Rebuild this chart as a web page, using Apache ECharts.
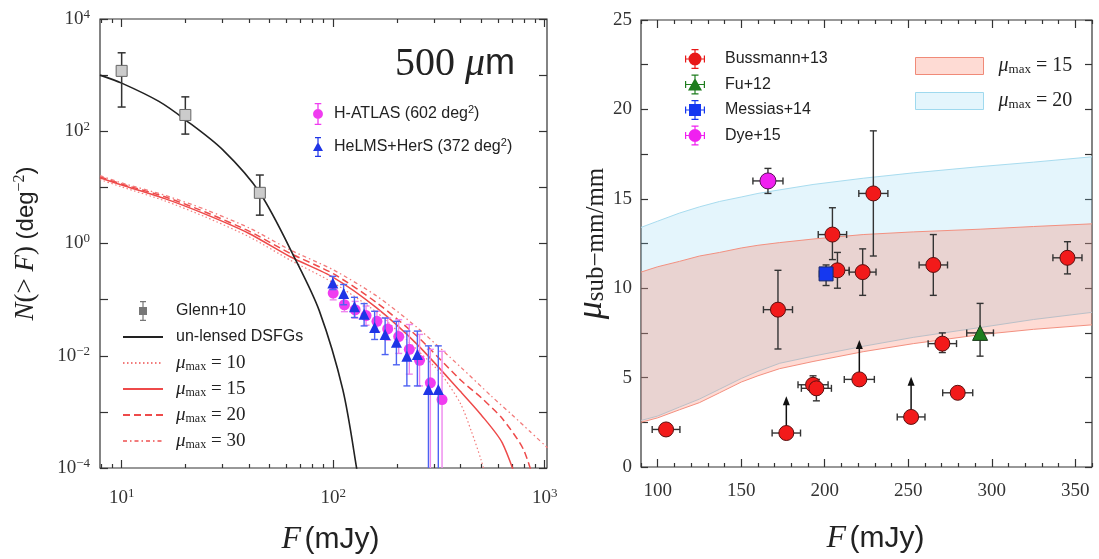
<!DOCTYPE html>
<html>
<head>
<meta charset="utf-8">
<script src="https://cdn.jsdelivr.net/npm/echarts@6/dist/echarts.min.js"></script>
<style>
* { margin: 0; padding: 0; }
body { background: #fff; }
#container { width: 1099px; height: 559px; }
</style>
</head>
<body>
<div id="container"></div>
<script>
var chart = echarts.init(document.getElementById('container'));

// ---------- left panel: cumulative counts at 500 um (F in mJy, N in deg^-2)
var glennF = [10, 20, 45];
var glennN = [1190, 195, 8.0];
var glennLo = [270, 89, 3.2];
var glennHi = [2500, 410, 16.6];

// H-ATLAS (602 deg2); a lower error of 0 means the bar runs off the axis
var hatlasF = [100, 113, 127, 143, 161, 181, 204, 229, 256, 288, 327];
var hatlasN = [0.131, 0.081, 0.066, 0.052, 0.041, 0.030, 0.022, 0.013, 0.0083, 0.0033, 0.00166];
var hatlasLo = [0.099, 0.061, 0.047, 0.035, 0.027, 0.019, 0.011, 0.0047, 0.0029, 0, 0];
var hatlasHi = [0.173, 0.107, 0.093, 0.077, 0.062, 0.047, 0.044, 0.036, 0.024, 0.013, 0.012];

// HeLMS+HerS (372 deg2)
var helmsF = [99.6, 112, 126, 140, 157, 176, 199, 223, 250, 282, 314];
var helmsN = [0.198, 0.128, 0.075, 0.055, 0.032, 0.024, 0.0174, 0.0098, 0.0105, 0.0025, 0.0025];
var helmsLo = [0.151, 0.081, 0.048, 0.034, 0.0195, 0.0105, 0.0069, 0.0029, 0.0029, 0, 0];
var helmsHi = [0.26, 0.186, 0.11, 0.085, 0.062, 0.047, 0.041, 0.0275, 0.0275, 0.015, 0.015];

// model curves
var unlensedF = [7.9, 10, 15, 20, 30, 45, 67, 86, 111, 129, 140];
var unlensedN = [1000, 720, 340, 160, 47, 8, 0.48, 0.063, 0.0025, 0.0001, 0.000012];
var mu10F = [7.9, 10, 16, 25, 40, 63, 100, 160, 250, 320, 400, 450, 500, 560];
var mu10N = [13.8, 10.2, 5.75, 2.95, 1.32, 0.50, 0.20, 0.060, 0.0126, 0.0050, 0.0014, 0.00045, 0.00014, 0.00003];
var mu15F = [7.9, 10, 16, 25, 40, 63, 100, 160, 250, 400, 500, 630, 800];
var mu15N = [14.8, 11.0, 6.3, 3.3, 1.51, 0.575, 0.25, 0.072, 0.0158, 0.0023, 0.00089, 0.00028, 0.000025];
var mu20F = [7.9, 10, 16, 25, 40, 63, 100, 160, 250, 400, 500, 630, 800, 1000];
var mu20N = [15.5, 11.5, 6.8, 3.6, 1.66, 0.66, 0.29, 0.089, 0.022, 0.0037, 0.0018, 0.00076, 0.0002, 0.0000126];
var mu30F = [7.9, 10, 16, 25, 40, 63, 100, 160, 250, 400, 560, 700, 850, 1030];
var mu30N = [16.2, 12.0, 7.25, 4.0, 1.9, 0.76, 0.34, 0.117, 0.0316, 0.0063, 0.0019, 0.00089, 0.00045, 0.00023];

var leftXRange = [7.9, 1025];
var leftYRange = [1e-4, 1e4];

// ---------- right panel: magnification vs flux
var bussF = [105, 172, 177, 193, 195, 204.6, 207.6, 220.7, 222.7, 229.1, 251.7, 265, 270.4, 279.6, 345.3];
var bussMu = [2.1, 8.8, 1.9, 4.6, 4.4, 13.0, 11.0, 4.9, 10.9, 15.3, 2.8, 11.3, 6.9, 4.15, 11.7];
var bussFerr = [8.3, 8.7, 8.5, 9, 9, 8.5, 7, 9, 8, 8.7, 8.3, 8.5, 8.5, 9, 8.7];
var bussMuLo = [2.1, 6.6, 1.9, 4.2, 3.7, 11.6, 10.0, 4.9, 9.6, 11.8, 2.8, 9.6, 6.4, 4.15, 10.8];
var bussMuHi = [2.1, 11.0, 1.9, 5.1, 4.9, 14.5, 12.0, 4.9, 12.2, 18.8, 2.8, 13.0, 7.5, 4.15, 12.6];
// lower limits (arrows)
var limF = [177, 220.7, 251.7];
var limMu = [1.9, 4.9, 2.8];
var limTo = [3.95, 7.1, 5.05];

var fuF = [293], fuMu = [7.5], fuFerr = [8], fuMuLo = [6.2], fuMuHi = [9.15];
var messiasF = [200.8], messiasMu = [10.8], messiasFerr = [4], messiasMuLo = [10.15], messiasMuHi = [11.3];
var dyeF = [166], dyeMu = [16.0], dyeFerr = [9], dyeMuLo = [15.3], dyeMuHi = [16.7];

var bandF = [90, 100, 113, 125, 137, 150, 160, 173, 193, 223, 253, 293, 325, 360];
var band15Lo = [2.5, 2.75, 3.2, 3.6, 4.15, 4.75, 5.1, 5.5, 5.9, 6.45, 6.9, 7.4, 7.7, 7.95];
var band15Hi = [10.9, 11.2, 11.5, 11.8, 12.0, 12.25, 12.4, 12.55, 12.75, 13.0, 13.15, 13.3, 13.45, 13.6];
var band20Lo = [2.6, 2.85, 3.35, 3.8, 4.35, 4.95, 5.35, 5.8, 6.2, 6.75, 7.25, 7.8, 8.25, 8.65];
var band20Hi = [13.4, 13.75, 14.2, 14.55, 14.85, 15.1, 15.3, 15.5, 15.8, 16.15, 16.45, 16.8, 17.05, 17.35];

var rightXRange = [90, 360];
var rightXMajor = [100, 150, 200, 250, 300, 350];
var rightYRange = [0, 25];

// ---------- helpers
var lg = Math.log10;
var SERIF = "'Liberation Serif', 'DejaVu Serif', serif";
var SANS = "'Liberation Sans', 'DejaVu Sans', sans-serif";
var INK = '#333';
var FILL15 = 'rgba(250,100,70,0.23)';
var FILL20 = 'rgba(130,210,240,0.22)';

function logLine(xs, ys) {
    return xs.map(function (x, i) { return [lg(x), lg(ys[i])]; });
}
function logErrRows(xs, ys, lo, hi) {
    return xs.map(function (x, i) {
        return [lg(x), lg(ys[i]), lg(x), lg(x), lo[i] > 0 ? lg(lo[i]) : -99, lg(hi[i])];
    });
}
function linErrRows(xs, ys, xerr, lo, hi) {
    return xs.map(function (x, i) { return [x, ys[i], x - xerr[i], x + xerr[i], lo[i], hi[i]]; });
}

// error bars with caps; a bar that runs past the plot bottom gets no cap
function errorBarItem(color, lw, cap) {
    return function (params, api) {
        var cs = params.coordSys;
        var bottom = cs.y + cs.height;
        var x = api.value(0), y = api.value(1);
        var kids = [];
        var st = { stroke: color, lineWidth: lw };
        function seg(x1, y1, x2, y2) {
            kids.push({ type: 'line', shape: { x1: x1, y1: y1, x2: x2, y2: y2 }, style: st });
        }
        var ylo = api.value(4), yhi = api.value(5);
        if (ylo !== yhi) {
            var p0 = api.coord([x, yhi]), p1 = api.coord([x, ylo]);
            var open = p1[1] > bottom;
            if (open) p1[1] = bottom;
            seg(p0[0], p0[1], p1[0], p1[1]);
            seg(p0[0] - cap, p0[1], p0[0] + cap, p0[1]);
            if (!open) seg(p1[0] - cap, p1[1], p1[0] + cap, p1[1]);
        }
        var xlo = api.value(2), xhi = api.value(3);
        if (xlo !== xhi) {
            var q0 = api.coord([xlo, y]), q1 = api.coord([xhi, y]);
            seg(q0[0], q0[1], q1[0], q1[1]);
            seg(q0[0], q0[1] - cap, q0[0], q0[1] + cap);
            seg(q1[0], q1[1] - cap, q1[0], q1[1] + cap);
        }
        return { type: 'group', children: kids };
    };
}

function arrowItem(params, api) {
    var a = api.coord([api.value(0), api.value(1)]);
    var b = api.coord([api.value(0), api.value(2)]);
    return {
        type: 'group',
        children: [
            { type: 'line', shape: { x1: a[0], y1: a[1], x2: b[0], y2: b[1] + 6 }, style: { stroke: '#111', lineWidth: 1.5 } },
            { type: 'polygon', shape: { points: [[b[0], b[1]], [b[0] - 3.5, b[1] + 9], [b[0] + 3.5, b[1] + 9]] }, style: { fill: '#111' } }
        ]
    };
}

function bandItem(lo, hi, fill, edge) {
    return function (params, api) {
        if (params.dataIndex !== 0) return;
        var top = bandF.map(function (f, i) { return api.coord([f, hi[i]]); });
        var bot = bandF.map(function (f, i) { return api.coord([f, lo[i]]); });
        return {
            type: 'group',
            children: [
                { type: 'polygon', shape: { points: top.concat(bot.slice().reverse()) }, style: { fill: fill } },
                { type: 'polyline', shape: { points: top }, style: { stroke: edge, fill: null, lineWidth: 1 } },
                { type: 'polyline', shape: { points: bot }, style: { stroke: edge, fill: null, lineWidth: 1 } }
            ]
        };
    };
}

// log minor ticks 2..9 x 10^n inside the x range
var leftMinor = [];
for (var n = 0; n <= 2; n++) {
    for (var k = 2; k <= 9; k++) {
        var v = k * Math.pow(10, n);
        if (v >= leftXRange[0] && v <= leftXRange[1]) leftMinor.push(lg(v));
    }
}
var leftMajor = [1, 2, 3];
var rightMinor = [];
for (var t = rightXRange[0]; t <= rightXRange[1]; t += 10) {
    if (rightXMajor.indexOf(t) < 0) rightMinor.push(t);
}

var tickLine = { color: INK, width: 1.2 };
var expRich = {
    b: { fontFamily: SERIF, fontSize: 19, color: INK, lineHeight: 22 },
    s: { fontFamily: SERIF, fontSize: 13, color: INK, lineHeight: 12, verticalAlign: 'top' }
};
function expLabel(v) {
    v = Math.round(v);
    return '{b|10}{s|' + (v < 0 ? '\u2212' + (-v) : v) + '}';
}

function tickAxis(grid, pos, range, values, len, label) {
    return {
        type: 'value', gridIndex: grid, position: pos,
        min: range[0], max: range[1],
        axisLine: { show: false, onZero: false }, splitLine: { show: false },
        axisTick: { show: true, inside: true, length: len, customValues: values, lineStyle: tickLine },
        axisLabel: label ? label : { show: false }
    };
}

var leftXr = [lg(leftXRange[0]), lg(leftXRange[1])];
var nameRich = {
    i: { fontFamily: SERIF, fontStyle: 'italic', fontSize: 32, color: '#222' },
    r: { fontFamily: SANS, fontSize: 30, color: '#222' }
};
var xAxes = [
    tickAxis(0, 'bottom', leftXr, leftMajor, 8, {
        customValues: leftMajor, margin: 19, formatter: expLabel, rich: expRich
    }),
    tickAxis(0, 'bottom', leftXr, leftMinor, 4),
    tickAxis(0, 'top', leftXr, leftMajor, 8),
    tickAxis(0, 'top', leftXr, leftMinor, 4),
    tickAxis(1, 'bottom', rightXRange, rightXMajor, 8, {
        customValues: rightXMajor, margin: 15,
        fontFamily: SERIF, fontSize: 19, color: INK
    }),
    tickAxis(1, 'bottom', rightXRange, rightMinor, 4),
    tickAxis(1, 'top', rightXRange, rightXMajor, 8),
    tickAxis(1, 'top', rightXRange, rightMinor, 4)
];
xAxes[0].name = '{i|F} {r|(mJy)}';
xAxes[0].nameLocation = 'middle';
xAxes[0].nameGap = 56;
xAxes[0].nameTextStyle = { padding: [0, 0, 0, 14], rich: nameRich };
xAxes[4].name = xAxes[0].name;
xAxes[4].nameLocation = 'middle';
xAxes[4].nameGap = 56;
xAxes[4].nameTextStyle = { padding: [0, 0, 0, 18], rich: nameRich };

var yAxes = [
    {
        type: 'value', gridIndex: 0, position: 'left',
        min: lg(leftYRange[0]), max: lg(leftYRange[1]), interval: 1,
        axisLine: { show: false, onZero: false }, splitLine: { show: false },
        axisTick: { inside: true, length: 8, lineStyle: tickLine },
        axisLabel: {
            margin: 10, rich: expRich,
            formatter: function (v) { return Math.round(v) % 2 === 0 ? expLabel(v) : ''; }
        },
        name: '{i|N}{r|(> }{i|F}{r|)}  {s|(deg}{p|\u22122}{s|)}',
        nameLocation: 'middle', nameGap: 60,
        nameTextStyle: {
            rich: {
                i: { fontFamily: SERIF, fontStyle: 'italic', fontSize: 27, color: '#222', lineHeight: 28 },
                r: { fontFamily: SERIF, fontSize: 27, color: '#222', lineHeight: 28 },
                s: { fontFamily: SANS, fontSize: 24, color: '#222', lineHeight: 28 },
                p: { fontFamily: SERIF, fontSize: 16, color: '#222', lineHeight: 14, verticalAlign: 'top' }
            }
        }
    },
    {
        type: 'value', gridIndex: 0, position: 'right',
        min: lg(leftYRange[0]), max: lg(leftYRange[1]), interval: 1,
        axisLine: { show: false, onZero: false }, splitLine: { show: false },
        axisTick: { inside: true, length: 8, lineStyle: tickLine },
        axisLabel: { show: false }
    },
    {
        type: 'value', gridIndex: 1, position: 'left',
        min: rightYRange[0], max: rightYRange[1], interval: 2.5,
        axisLine: { show: false, onZero: false }, splitLine: { show: false },
        axisTick: { inside: true, length: 7, lineStyle: tickLine },
        axisLabel: {
            margin: 9, fontFamily: SERIF, fontSize: 19, color: INK,
            formatter: function (v) { return v % 5 === 0 ? String(v) : ''; }
        },
        name: '{m|\u03bc}{s|sub\u2212mm/mm}',
        nameLocation: 'middle', nameGap: 30,
        nameTextStyle: {
            rich: {
                m: { fontFamily: SERIF, fontStyle: 'italic', fontSize: 36, color: '#222', lineHeight: 36 },
                s: { fontFamily: SERIF, fontSize: 25, color: '#222', lineHeight: 20, verticalAlign: 'bottom' }
            }
        }
    },
    {
        type: 'value', gridIndex: 1, position: 'right',
        min: rightYRange[0], max: rightYRange[1], interval: 2.5,
        axisLine: { show: false, onZero: false }, splitLine: { show: false },
        axisTick: { inside: true, length: 7, lineStyle: tickLine },
        axisLabel: { show: false }
    }
];

// legend icons: marker with error bars
var iconSquareBar = 'path://M2,0H8V1.2H2Z M4.4,0H5.6V20H4.4Z M2,18.8H8V20H2Z M1,6H9V14H1Z';
var iconCircleBar = 'path://M2,0H8V1.2H2Z M4.4,0H5.6V20H4.4Z M2,18.8H8V20H2Z M0.5,10A4.5,4.5 0 1,1 9.5,10A4.5,4.5 0 1,1 0.5,10Z';
var iconTriBar = 'path://M2,0H8V1.2H2Z M4.4,0H5.6V20H4.4Z M2,18.8H8V20H2Z M0,14L5,5L10,14Z';
var crossBars = 'M0,9.4H20V10.6H0Z M9.4,0H10.6V20H9.4Z M0,6.5H1.2V13.5H0Z M18.8,6.5H20V13.5H18.8Z M6.5,0H13.5V1.2H6.5Z M6.5,18.8H13.5V20H6.5Z ';
var iconCrossCircle = 'path://' + crossBars + 'M3.5,10A6.5,6.5 0 1,1 16.5,10A6.5,6.5 0 1,1 3.5,10Z';
var iconCrossTri = 'path://' + crossBars + 'M3,16L10,3.5L17,16Z';
var iconCrossSquare = 'path://' + crossBars + 'M4,4H16V16H4Z';

var legendText = {
    'mu10': '{m|\u03bc}{s|max}{e| = 10}',
    'mu15': '{m|\u03bc}{s|max}{e| = 15}',
    'mu20': '{m|\u03bc}{s|max}{e| = 20}',
    'mu30': '{m|\u03bc}{s|max}{e| = 30}',
    'band15': '{m|\u03bc}{s|max}{e| = 15}',
    'band20': '{m|\u03bc}{s|max}{e| = 20}',
    'H-ATLAS': 'H-ATLAS (602 deg{p|2})',
    'HeLMS+HerS': 'HeLMS+HerS (372 deg{p|2})'
};
function legendFormat(name) { return legendText[name] || name; }
function legendStyle(size, padLeft) {
    return {
        fontFamily: SANS, fontSize: 16, color: '#222', lineHeight: 20, padding: [0, 0, 0, padLeft],
        rich: {
            m: { fontFamily: SERIF, fontStyle: 'italic', fontSize: size, color: '#222', lineHeight: 20 },
            s: { fontFamily: SERIF, fontSize: Math.round(size * 0.65), color: '#222', lineHeight: 12, verticalAlign: 'bottom' },
            e: { fontFamily: SERIF, fontSize: size, color: '#222', lineHeight: 20 },
            p: { fontFamily: SANS, fontSize: 11, color: '#222', lineHeight: 12, verticalAlign: 'top' }
        }
    };
}
// line entries: keep the line, hide the default marker
var hideMarker = { opacity: 0 };

var redLine = '#ee4a4a';
var redSoft = '#f27a7a';

var option = {
    backgroundColor: '#fff',
    animation: false,
    grid: [
        { left: 100, top: 19, width: 447, height: 449, show: true, borderColor: INK, borderWidth: 1.2, containLabel: false, outerBoundsMode: 'none' },
        { left: 641, top: 20, width: 451, height: 447, show: true, borderColor: INK, borderWidth: 1.2, containLabel: false, outerBoundsMode: 'none' }
    ],
    xAxis: xAxes,
    yAxis: yAxes,
    legend: [
        {
            orient: 'vertical', left: 117, top: 296, itemWidth: 40, itemHeight: 20, itemGap: 6,
            selectedMode: false, formatter: legendFormat, textStyle: legendStyle(19, 8),
            data: [
                { name: 'Glenn+10', icon: iconSquareBar, itemStyle: { color: '#777', borderWidth: 0 } },
                { name: 'un-lensed DSFGs', itemStyle: hideMarker },
                { name: 'mu10', itemStyle: hideMarker },
                { name: 'mu15', itemStyle: hideMarker },
                { name: 'mu20', itemStyle: hideMarker },
                { name: 'mu30', itemStyle: hideMarker }
            ]
        },
        {
            orient: 'vertical', left: 308, top: 98, itemWidth: 10, itemHeight: 22, itemGap: 12,
            selectedMode: false, formatter: legendFormat, textStyle: legendStyle(19, 6),
            data: [
                { name: 'H-ATLAS', icon: iconCircleBar, itemStyle: { color: '#f03cf0', borderWidth: 0 } },
                { name: 'HeLMS+HerS', icon: iconTriBar, itemStyle: { color: '#1f35e6', borderWidth: 0 } }
            ]
        },
        {
            orient: 'vertical', left: 680, top: 44, itemWidth: 20, itemHeight: 20, itemGap: 5.5,
            selectedMode: false, formatter: legendFormat, textStyle: legendStyle(19, 15),
            data: [
                { name: 'Bussmann+13', icon: iconCrossCircle, itemStyle: { color: '#e81818', borderWidth: 0 } },
                { name: 'Fu+12', icon: iconCrossTri, itemStyle: { color: '#1e7d1e', borderWidth: 0 } },
                { name: 'Messias+14', icon: iconCrossSquare, itemStyle: { color: '#1538f0', borderWidth: 0 } },
                { name: 'Dye+15', icon: iconCrossCircle, itemStyle: { color: '#f020f0', borderWidth: 0 } }
            ]
        },
        {
            orient: 'vertical', left: 910, top: 51, itemWidth: 68, itemHeight: 17, itemGap: 15,
            selectedMode: false, formatter: legendFormat, textStyle: legendStyle(20, 10),
            data: [
                { name: 'band15', icon: 'rect', itemStyle: { color: FILL15, borderColor: '#f08a78', borderWidth: 1 } },
                { name: 'band20', icon: 'rect', itemStyle: { color: FILL20, borderColor: '#9fd9ee', borderWidth: 1 } }
            ]
        }
    ],
    graphic: [
        {
            type: 'text', right: 584, top: 44,
            style: {
                text: '{a|500 }{b|\u03bc}{c|m}',
                rich: {
                    a: { fontFamily: SERIF, fontSize: 40, fill: '#222' },
                    b: { fontFamily: SERIF, fontStyle: 'italic', fontSize: 40, fill: '#222' },
                    c: { fontFamily: SANS, fontSize: 36, fill: '#222' }
                }
            }
        }
    ],
    series: [
        // ---- left panel
        {
            name: 'mu10', type: 'line', xAxisIndex: 0, yAxisIndex: 0, data: logLine(mu10F, mu10N),
            symbol: 'none', smooth: 0.25, z: 3,
            itemStyle: { color: redSoft },
            lineStyle: { color: redSoft, width: 1.2, type: [1.5, 2.5] }
        },
        {
            name: 'mu15', type: 'line', xAxisIndex: 0, yAxisIndex: 0, data: logLine(mu15F, mu15N),
            symbol: 'none', smooth: 0.25, z: 3,
            itemStyle: { color: redLine },
            lineStyle: { color: redLine, width: 1.5 }
        },
        {
            name: 'mu20', type: 'line', xAxisIndex: 0, yAxisIndex: 0, data: logLine(mu20F, mu20N),
            symbol: 'none', smooth: 0.25, z: 3,
            itemStyle: { color: redLine },
            lineStyle: { color: redLine, width: 1.5, type: [7, 4] }
        },
        {
            name: 'mu30', type: 'line', xAxisIndex: 0, yAxisIndex: 0, data: logLine(mu30F, mu30N),
            symbol: 'none', smooth: 0.25, z: 3,
            itemStyle: { color: redSoft },
            lineStyle: { color: redSoft, width: 1.3, type: [4, 3, 1.5, 3] }
        },
        {
            name: 'un-lensed DSFGs', type: 'line', xAxisIndex: 0, yAxisIndex: 0, data: logLine(unlensedF, unlensedN),
            symbol: 'none', smooth: 0.3, z: 3,
            itemStyle: { color: '#222' },
            lineStyle: { color: '#222', width: 1.6 }
        },
        {
            name: 'eb-glenn', type: 'custom', xAxisIndex: 0, yAxisIndex: 0, clip: true, z: 4,
            renderItem: errorBarItem('#333', 1.5, 4), data: logErrRows(glennF, glennN, glennLo, glennHi)
        },
        {
            name: 'Glenn+10', type: 'scatter', xAxisIndex: 0, yAxisIndex: 0, z: 5,
            data: logLine(glennF, glennN), symbol: 'rect', symbolSize: 11,
            itemStyle: { color: '#cbcbcb', borderColor: '#666', borderWidth: 1, opacity: 1 }
        },
        {
            name: 'eb-hatlas', type: 'custom', xAxisIndex: 0, yAxisIndex: 0, clip: true, z: 4,
            renderItem: errorBarItem('#ee88ee', 1.4, 3.5), data: logErrRows(hatlasF, hatlasN, hatlasLo, hatlasHi)
        },
        {
            name: 'H-ATLAS', type: 'scatter', xAxisIndex: 0, yAxisIndex: 0, z: 5,
            data: logLine(hatlasF, hatlasN), symbol: 'circle', symbolSize: 11,
            itemStyle: { color: '#f03cf0', opacity: 1 }
        },
        {
            name: 'eb-helms', type: 'custom', xAxisIndex: 0, yAxisIndex: 0, clip: true, z: 6,
            renderItem: errorBarItem('#4c62f2', 1.4, 3.5), data: logErrRows(helmsF, helmsN, helmsLo, helmsHi)
        },
        {
            name: 'HeLMS+HerS', type: 'scatter', xAxisIndex: 0, yAxisIndex: 0, z: 7,
            data: logLine(helmsF, helmsN), symbol: 'triangle', symbolSize: 11,
            itemStyle: { color: '#1f35e6', opacity: 1 }
        },
        // ---- right panel
        {
            name: 'band20', type: 'custom', xAxisIndex: 4, yAxisIndex: 2, z: 2,
            renderItem: bandItem(band20Lo, band20Hi, FILL20, '#a8dcef'),
            data: bandF.map(function (f, i) { return [f, band20Lo[i], band20Hi[i]]; })
        },
        {
            name: 'band15', type: 'custom', xAxisIndex: 4, yAxisIndex: 2, z: 2,
            renderItem: bandItem(band15Lo, band15Hi, FILL15, '#f39080'),
            data: bandF.map(function (f, i) { return [f, band15Lo[i], band15Hi[i]]; })
        },
        {
            name: 'eb-buss', type: 'custom', xAxisIndex: 4, yAxisIndex: 2, z: 4,
            renderItem: errorBarItem('#333', 1.4, 3.5), data: linErrRows(bussF, bussMu, bussFerr, bussMuLo, bussMuHi)
        },
        {
            name: 'arrows', type: 'custom', xAxisIndex: 4, yAxisIndex: 2, z: 4,
            renderItem: arrowItem, data: limF.map(function (f, i) { return [f, limMu[i], limTo[i]]; })
        },
        {
            name: 'eb-fu', type: 'custom', xAxisIndex: 4, yAxisIndex: 2, z: 4,
            renderItem: errorBarItem('#333', 1.4, 3.5), data: linErrRows(fuF, fuMu, fuFerr, fuMuLo, fuMuHi)
        },
        {
            name: 'eb-messias', type: 'custom', xAxisIndex: 4, yAxisIndex: 2, z: 4,
            renderItem: errorBarItem('#333', 1.4, 3.5), data: linErrRows(messiasF, messiasMu, messiasFerr, messiasMuLo, messiasMuHi)
        },
        {
            name: 'eb-dye', type: 'custom', xAxisIndex: 4, yAxisIndex: 2, z: 4,
            renderItem: errorBarItem('#333', 1.4, 3.5), data: linErrRows(dyeF, dyeMu, dyeFerr, dyeMuLo, dyeMuHi)
        },
        {
            name: 'Bussmann+13', type: 'scatter', xAxisIndex: 4, yAxisIndex: 2, z: 5,
            data: bussF.map(function (f, i) { return [f, bussMu[i]]; }), symbol: 'circle', symbolSize: 15,
            itemStyle: { color: '#f21a1a', borderColor: '#5a1010', borderWidth: 1, opacity: 1 }
        },
        {
            name: 'Fu+12', type: 'scatter', xAxisIndex: 4, yAxisIndex: 2, z: 5,
            data: fuF.map(function (f, i) { return [f, fuMu[i]]; }), symbol: 'triangle', symbolSize: 15,
            itemStyle: { color: '#1e7d1e', borderColor: '#1a3a1a', borderWidth: 1, opacity: 1 }
        },
        {
            name: 'Messias+14', type: 'scatter', xAxisIndex: 4, yAxisIndex: 2, z: 5,
            data: messiasF.map(function (f, i) { return [f, messiasMu[i]]; }), symbol: 'rect', symbolSize: 14,
            itemStyle: { color: '#1538f0', borderColor: '#1a2a66', borderWidth: 1, opacity: 1 }
        },
        {
            name: 'Dye+15', type: 'scatter', xAxisIndex: 4, yAxisIndex: 2, z: 5,
            data: dyeF.map(function (f, i) { return [f, dyeMu[i]]; }), symbol: 'circle', symbolSize: 16,
            itemStyle: { color: '#f020f0', borderColor: '#5a105a', borderWidth: 1, opacity: 1 }
        }
    ]
};

chart.setOption(option);
</script>
</body>
</html>
